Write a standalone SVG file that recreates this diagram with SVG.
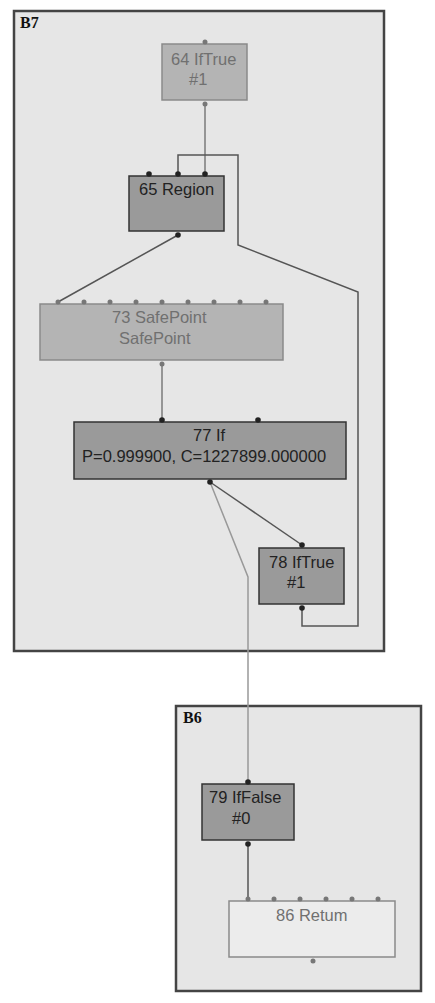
<svg xmlns="http://www.w3.org/2000/svg" width="435" height="1003" viewBox="0 0 435 1003">
<style>
.blk{fill:#e6e6e6;stroke:#444;stroke-width:2.5}
.blbl{font-family:"Liberation Serif",serif;font-weight:bold;font-size:16px;fill:#111}
.nl{fill:#b4b4b4;stroke:#8a8a8a;stroke-width:1.5}
.nd{fill:#9a9a9a;stroke:#333;stroke-width:1.5}
.nw{fill:#ececec;stroke:#8a8a8a;stroke-width:1.5}
.t{font-family:"Liberation Sans",Arial,sans-serif;font-size:16.5px}
.tl{fill:#707070}
.td{fill:#222}
.e{fill:none;stroke-width:1.5}
.ed{stroke:#555}
.eg{stroke:#7a7a7a}
.ef{stroke:#999}
.dd{fill:#222}
.dg{fill:#777}
</style>
<rect width="435" height="1003" fill="#fff"/>
<g id="B7">
<rect class="blk" x="14" y="11" width="370" height="640"/>
<text class="blbl" x="20" y="28">B7</text>
</g>
<g id="B6">
<rect class="blk" x="176" y="706" width="245" height="285"/>
<text class="blbl" x="183" y="723">B6</text>
</g>
<g id="connectors">
<path class="e eg" d="M205,104 L205,174"/>
<path class="e ed" d="M302,608 L302,626 L358,626 L358,292 L238,245 L238,155 L178,155 L178,174"/>
<path class="e ed" d="M178,235 L58,302"/>
<path class="e eg" d="M162,364 L162,420"/>
<path class="e ed" d="M210,482 L302,545"/>
<path class="e ef" d="M210,482 L248,577 L248,782"/>
<path class="e ed" d="M248,844 L248,899"/>
</g>
<g id="n64">
<rect class="nl" x="162" y="44" width="85" height="56"/>
<text class="t tl" x="171" y="65">64 IfTrue</text>
<text class="t tl" x="189" y="85">#1</text>
<circle class="dg" cx="205" cy="42" r="2.5"/>
<circle class="dg" cx="205" cy="104" r="2.5"/>
</g>
<g id="n65">
<rect class="nd" x="129" y="176" width="95" height="55"/>
<text class="t td" x="139" y="195">65 Region</text>
<circle class="dd" cx="149" cy="174" r="2.8"/>
<circle class="dd" cx="178" cy="174" r="2.8"/>
<circle class="dd" cx="205" cy="174" r="2.8"/>
<circle class="dd" cx="178" cy="235" r="2.8"/>
</g>
<g id="n73">
<rect class="nl" x="40" y="304" width="243" height="56"/>
<text class="t tl" x="112" y="323">73 SafePoint</text>
<text class="t tl" x="119" y="344">SafePoint</text>
<circle class="dg" cx="58" cy="302" r="2.5"/>
<circle class="dg" cx="84" cy="302" r="2.5"/>
<circle class="dg" cx="110" cy="302" r="2.5"/>
<circle class="dg" cx="136" cy="302" r="2.5"/>
<circle class="dg" cx="162" cy="302" r="2.5"/>
<circle class="dg" cx="188" cy="302" r="2.5"/>
<circle class="dg" cx="214" cy="302" r="2.5"/>
<circle class="dg" cx="240" cy="302" r="2.5"/>
<circle class="dg" cx="266" cy="302" r="2.5"/>
<circle class="dg" cx="162" cy="364" r="2.5"/>
</g>
<g id="n77">
<rect class="nd" x="74" y="422" width="272" height="57"/>
<text class="t td" x="193" y="441">77 If</text>
<text class="t td" x="82" y="462">P=0.999900, C=1227899.000000</text>
<circle class="dd" cx="162" cy="420" r="2.8"/>
<circle class="dd" cx="258" cy="420" r="2.8"/>
<circle class="dd" cx="210" cy="482" r="2.8"/>
</g>
<g id="n78">
<rect class="nd" x="259" y="548" width="85" height="56"/>
<text class="t td" x="269" y="568">78 IfTrue</text>
<text class="t td" x="287" y="588">#1</text>
<circle class="dd" cx="302" cy="545" r="2.8"/>
<circle class="dd" cx="302" cy="608" r="2.8"/>
</g>
<g id="n79">
<rect class="nd" x="202" y="784" width="92" height="56"/>
<text class="t td" x="209" y="803">79 IfFalse</text>
<text class="t td" x="232" y="824">#0</text>
<circle class="dd" cx="248" cy="782" r="2.8"/>
<circle class="dd" cx="248" cy="844" r="2.8"/>
</g>
<g id="n86">
<rect class="nw" x="229" y="901" width="166" height="56"/>
<text class="t tl" x="276" y="921">86 Retum</text>
<circle class="dg" cx="248" cy="899" r="2.5"/>
<circle class="dg" cx="274" cy="899" r="2.5"/>
<circle class="dg" cx="300" cy="899" r="2.5"/>
<circle class="dg" cx="326" cy="899" r="2.5"/>
<circle class="dg" cx="352" cy="899" r="2.5"/>
<circle class="dg" cx="378" cy="899" r="2.5"/>
<circle class="dg" cx="313" cy="961" r="2.5"/>
</g>
</svg>
